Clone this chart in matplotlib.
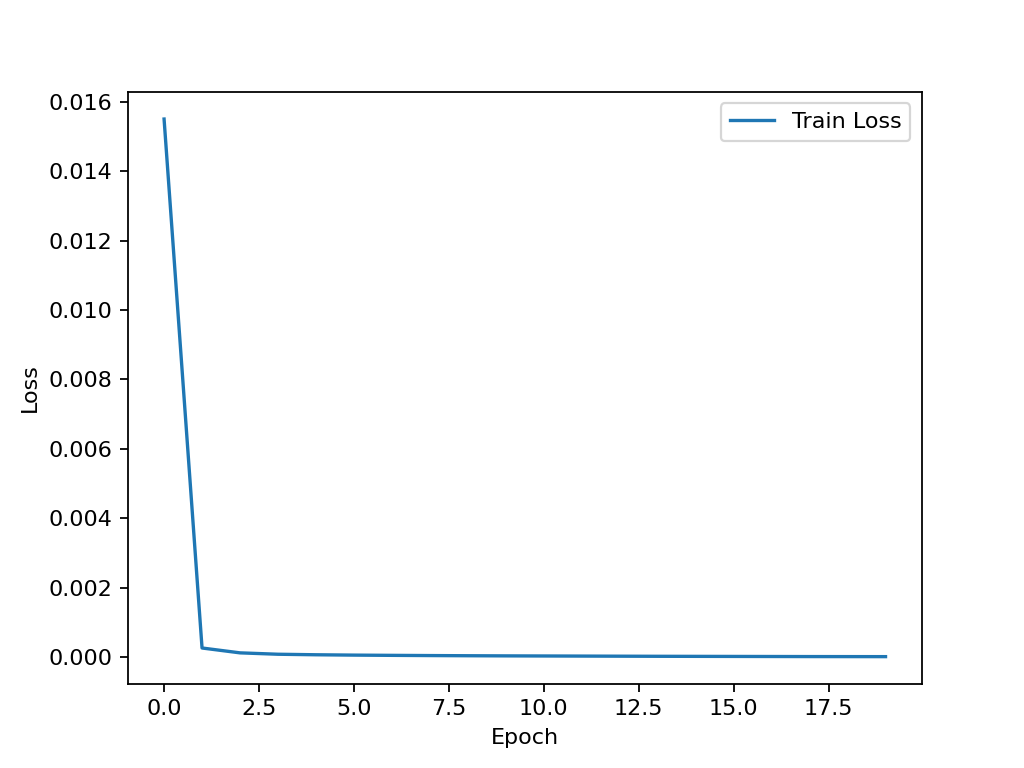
import matplotlib
matplotlib.use("Agg")
import matplotlib.pyplot as plt

epochs = list(range(20))
train_loss = [0.0155, 0.00026, 0.00012, 0.00008, 0.000065, 0.000055, 0.000048, 0.000042,
              0.000037, 0.000033, 0.00003, 0.000027, 0.000024, 0.000021, 0.000019,
              0.000017, 0.000015, 0.000013, 0.000012, 0.000011]

fig, ax = plt.subplots(figsize=(6.4, 4.8), dpi=160)
ax.plot(epochs, train_loss, label="Train Loss")
ax.set_xlabel("Epoch")
ax.set_ylabel("Loss")
ax.legend()
fig.savefig("out.png", dpi=160)
